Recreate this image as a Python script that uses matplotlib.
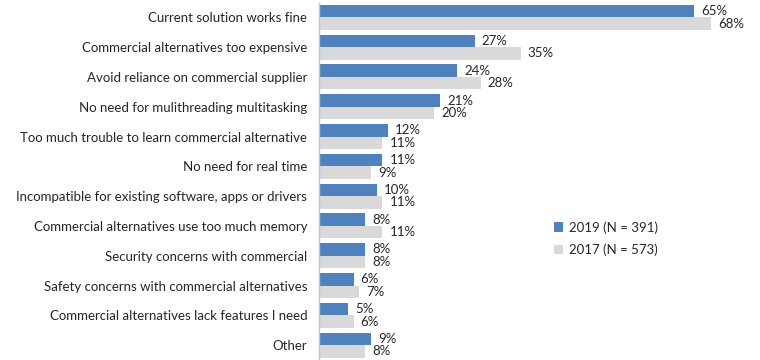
import matplotlib.pyplot as plt
import numpy as np

plt.rcParams['font.family'] = ['Lato', 'DejaVu Sans']

# Reasons for not moving to a commercial solution, by survey year
reasons = [
    "Current solution works fine",
    "Commercial alternatives too expensive",
    "Avoid reliance on commercial supplier",
    "No need for mulithreading multitasking",
    "Too much trouble to learn commercial alternative",
    "No need for real time",
    "Incompatible for existing software, apps or drivers",
    "Commercial alternatives use too much memory",
    "Security concerns with commercial",
    "Safety concerns with commercial alternatives",
    "Commercial alternatives lack features I need",
    "Other",
]
pct_2019 = [65, 27, 24, 21, 12, 11, 10, 8, 8, 6, 5, 9]
pct_2017 = [68, 35, 28, 20, 11, 9, 11, 11, 8, 7, 6, 8]

label_2019 = "2019 (N = 391)"
label_2017 = "2017 (N = 573)"

blue = "#4F81BD"
grey = "#D9D9D9"

fig = plt.figure(figsize=(7.6, 3.6), dpi=100)
ax = fig.add_axes([319 / 760, 0.0, 441 / 760, 357.5 / 360])

y = np.arange(len(reasons))
h = 0.42

b1 = ax.barh(y - h / 2, pct_2019, height=h, color=blue, label=label_2019)
b2 = ax.barh(y + h / 2, pct_2017, height=h, color=grey, label=label_2017)

for bars, vals in ((b1, pct_2019), (b2, pct_2017)):
    for bar, v in zip(bars, vals):
        ax.text(bar.get_width() + 1.2, bar.get_y() + bar.get_height() / 2,
                f"{v}%", va="center", ha="left", fontsize=9.5, color="#262626")

ax.set_xlim(0, 441 / 5.77)
ax.set_ylim(len(reasons) - 0.5, -0.5)
ax.set_yticks(y)
ax.set_yticklabels(reasons, fontsize=9.5, color="#262626")
ax.tick_params(axis="y", length=0, pad=8.5)
ax.set_xticks([])

for side in ("top", "right", "bottom"):
    ax.spines[side].set_visible(False)
ax.spines["left"].set_color("#A9CBE3")
ax.spines["left"].set_linewidth(1.0)

ax.legend(loc="upper left", bbox_to_anchor=(0.505, 0.422), frameon=False,
          fontsize=9.5, handlelength=0.7, handleheight=0.7,
          labelspacing=0.75, handletextpad=0.5, labelcolor="#262626")

fig.savefig("out.png", dpi=100)
